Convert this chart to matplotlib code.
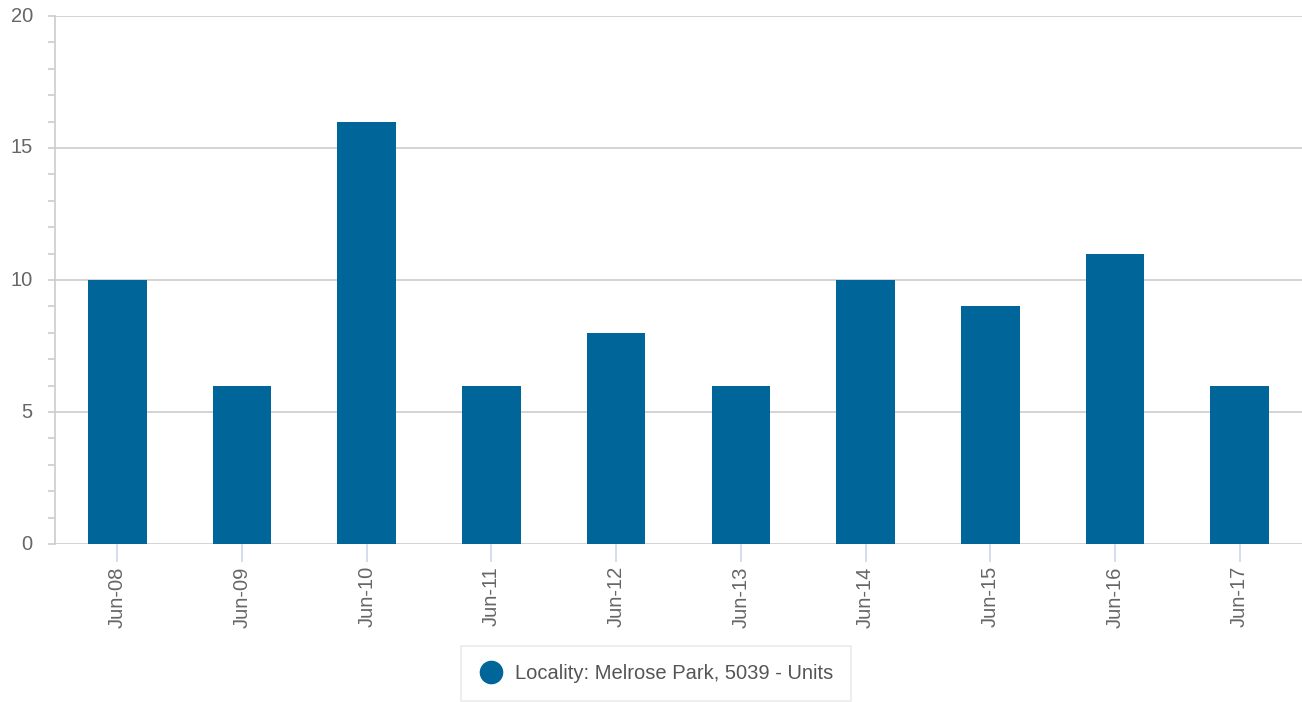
import matplotlib
matplotlib.use('Agg')
import matplotlib.pyplot as plt
from matplotlib.lines import Line2D
from matplotlib.ticker import MultipleLocator

plt.rcParams['font.family'] = ['Liberation Sans', 'DejaVu Sans']

years  = ['Jun-08', 'Jun-09', 'Jun-10', 'Jun-11', 'Jun-12',
          'Jun-13', 'Jun-14', 'Jun-15', 'Jun-16', 'Jun-17']
values = [10, 6, 16, 6, 8, 6, 10, 9, 11, 6]
series_name = 'Locality: Melrose Park, 5039 - Units'

bar_col  = '#006699'
grid_col = '#cccccc'
text_col = '#666666'

fig = plt.figure(figsize=(13.02, 7.02), dpi=100)
ax = fig.add_axes([55/1302, 1-544/702, 1-55/1302, (544-16)/702])

x = list(range(len(years)))
ax.bar(x, values, width=0.47, color=bar_col, zorder=3)

ax.set_xlim(-0.5, len(years)-0.5)
ax.set_ylim(0, 20)
ax.yaxis.set_major_locator(MultipleLocator(5))
ax.yaxis.set_minor_locator(MultipleLocator(1))
ax.grid(axis='y', which='major', color=grid_col, linewidth=1.2, zorder=0)

for s in ['top', 'right', 'bottom']:
    ax.spines[s].set_visible(False)
ax.spines['left'].set_color(grid_col)
ax.spines['left'].set_linewidth(1.2)

ax.tick_params(axis='y', which='both', length=5, width=1.2, color=grid_col,
               labelsize=14.5, labelcolor=text_col, pad=11)
ax.tick_params(axis='x', length=13, width=1.2, color='#ccd6eb',
               labelsize=14.5, labelcolor=text_col, pad=3)
ax.set_xticks(x)
ax.set_xticklabels(years, rotation=90)
for lab in ax.get_yticklabels():
    lab.set_verticalalignment('center')

handle = Line2D([], [], marker='o', linestyle='none', markersize=16,
                markerfacecolor=bar_col, markeredgecolor=bar_col)
leg = fig.legend([handle], [series_name], loc='upper center',
                 bbox_to_anchor=(656/1302, 1-646/702), fontsize=14.5,
                 frameon=True, fancybox=False, borderpad=0.9,
                 handlelength=1.2, handletextpad=0.6, borderaxespad=0)
leg.get_frame().set_edgecolor('#e6e6e6')
leg.get_frame().set_linewidth(1.2)
for t in leg.get_texts():
    t.set_color('#555555')

fig.savefig('out.png', dpi=100)
